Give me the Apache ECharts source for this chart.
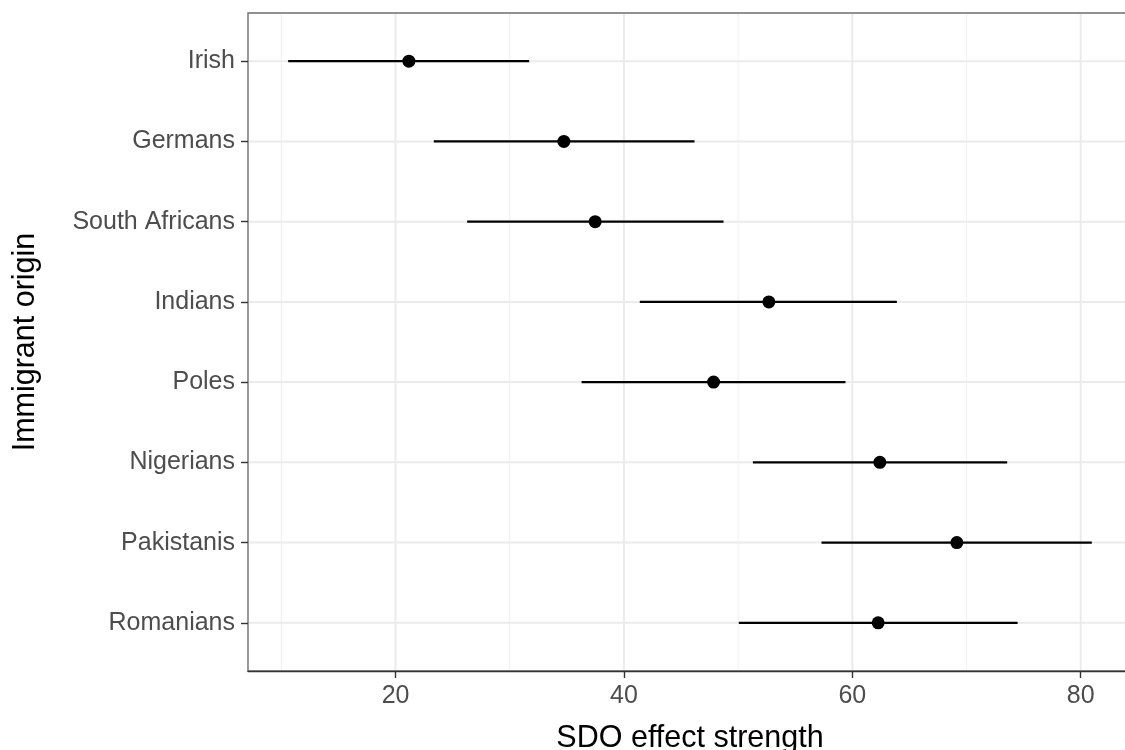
<!DOCTYPE html>
<html>
<head>
<meta charset="utf-8">
<script src="https://cdn.jsdelivr.net/npm/echarts@6/dist/echarts.min.js"></script>
<style>
html,body{margin:0;padding:0;background:#fff;overflow:hidden;width:1125px;height:750px;}
#chart{width:1140px;height:750px;}
</style>
</head>
<body>
<div id="chart"></div>
<script>
// ---- data ----
const categories = ["Irish","Germans","South Africans","Indians","Poles","Nigerians","Pakistanis","Romanians"];
const estimates = [21.17, 34.74, 37.48, 52.69, 47.85, 62.41, 69.15, 62.26];
const lower     = [10.6, 23.35, 26.27, 41.39, 36.29, 51.29, 57.3, 50.06];
const upper     = [31.7, 46.18, 48.72, 63.9, 59.4, 73.56, 80.97, 74.47];
const xTicks = [20, 40, 60, 80];
const xMinorTicks = [10, 30, 50, 70];
const xTitle = "SDO effect strength";
const yTitle = "Immigrant origin";

// ggplot-like 5% expansion of the x range, 0.6 units on the discrete y
const dmin = Math.min(...lower), dmax = Math.max(...upper);
const pad = (dmax - dmin) * 0.05;
const xMin = dmin - pad, xMax = dmax + pad;
const yIdx = categories.map((c, i) => i);

const FONT = "'Liberation Sans', Arial, sans-serif";

function vLine(color, width) {
  return function (params, api) {
    const cs = params.coordSys;
    const x = api.coord([api.value(0), api.value(1)])[0];
    return { type: 'line', silent: true,
      shape: { x1: x, y1: cs.y + 1, x2: x, y2: cs.y + cs.height - 1 },
      style: { stroke: color, lineWidth: width } };
  };
}
function hLine(color, width) {
  return function (params, api) {
    const cs = params.coordSys;
    const y = api.coord([api.value(0), api.value(1)])[1];
    return { type: 'line', silent: true,
      shape: { x1: cs.x + 1, y1: y, x2: cs.x + cs.width - 1, y2: y },
      style: { stroke: color, lineWidth: width } };
  };
}

const chart = echarts.init(document.getElementById('chart'), null, { renderer: 'canvas' });
chart.setOption({
  animation: false,
  backgroundColor: '#ffffff',
  textStyle: { fontFamily: FONT },
  grid: {
    left: 248, top: 13, width: 884, height: 658,
    outerBoundsMode: 'none', containLabel: false,
    show: true, borderColor: '#6e6e6e', borderWidth: 1.4, backgroundColor: 'transparent'
  },
  xAxis: {
    type: 'value', min: xMin, max: xMax,
    name: xTitle, nameLocation: 'middle', nameGap: 52,
    nameTextStyle: { fontSize: 30.5, color: '#000', fontFamily: FONT },
    axisLine: { show: true, onZero: false, lineStyle: { color: '#333', width: 1.4 } },
    axisTick: { show: true, customValues: xTicks, length: 7, lineStyle: { color: '#333', width: 1.4 } },
    axisLabel: { customValues: xTicks, fontSize: 25, color: '#4d4d4d', margin: 13, fontFamily: FONT },
    splitLine: { show: false }
  },
  yAxis: {
    type: 'value', min: -0.6, max: categories.length - 1 + 0.6, inverse: true,
    name: yTitle, nameLocation: 'middle', nameGap: 207, nameRotate: 90,
    nameTextStyle: { fontSize: 30.5, color: '#000', fontFamily: FONT },
    axisLine: { show: false, onZero: false },
    axisTick: { show: true, customValues: yIdx, length: 7, lineStyle: { color: '#333', width: 1.4 } },
    axisLabel: { customValues: yIdx, formatter: v => categories[Math.round(v)], fontSize: 25, color: '#4d4d4d', margin: 13, fontFamily: FONT },
    splitLine: { show: false }
  },
  series: [
    { type: 'custom', z: 1, silent: true, renderItem: vLine('#f2f2f2', 1.2),
      encode: { x: 0, y: 1 }, data: xMinorTicks.map(v => [v, 0]) },
    { type: 'custom', z: 1, silent: true, renderItem: vLine('#ebebeb', 2),
      encode: { x: 0, y: 1 }, data: xTicks.map(v => [v, 0]) },
    { type: 'custom', z: 1, silent: true, renderItem: hLine('#ebebeb', 2),
      encode: { x: 0, y: 1 }, data: yIdx.map(i => [xTicks[0], i]) },
    { type: 'custom', z: 3, silent: true,
      renderItem: function (params, api) {
        const p1 = api.coord([api.value(0), api.value(2)]);
        const p2 = api.coord([api.value(1), api.value(2)]);
        return { type: 'line', shape: { x1: p1[0], y1: p1[1], x2: p2[0], y2: p2[1] },
          style: { stroke: '#000', lineWidth: 2.3 } };
      },
      encode: { x: [0, 1], y: 2 },
      data: categories.map((c, i) => [lower[i], upper[i], i]) },
    { type: 'scatter', z: 4, symbol: 'circle', symbolSize: 13,
      itemStyle: { color: '#000', opacity: 1 },
      data: estimates.map((m, i) => [m, i]) }
  ]
});
</script>
</body>
</html>
